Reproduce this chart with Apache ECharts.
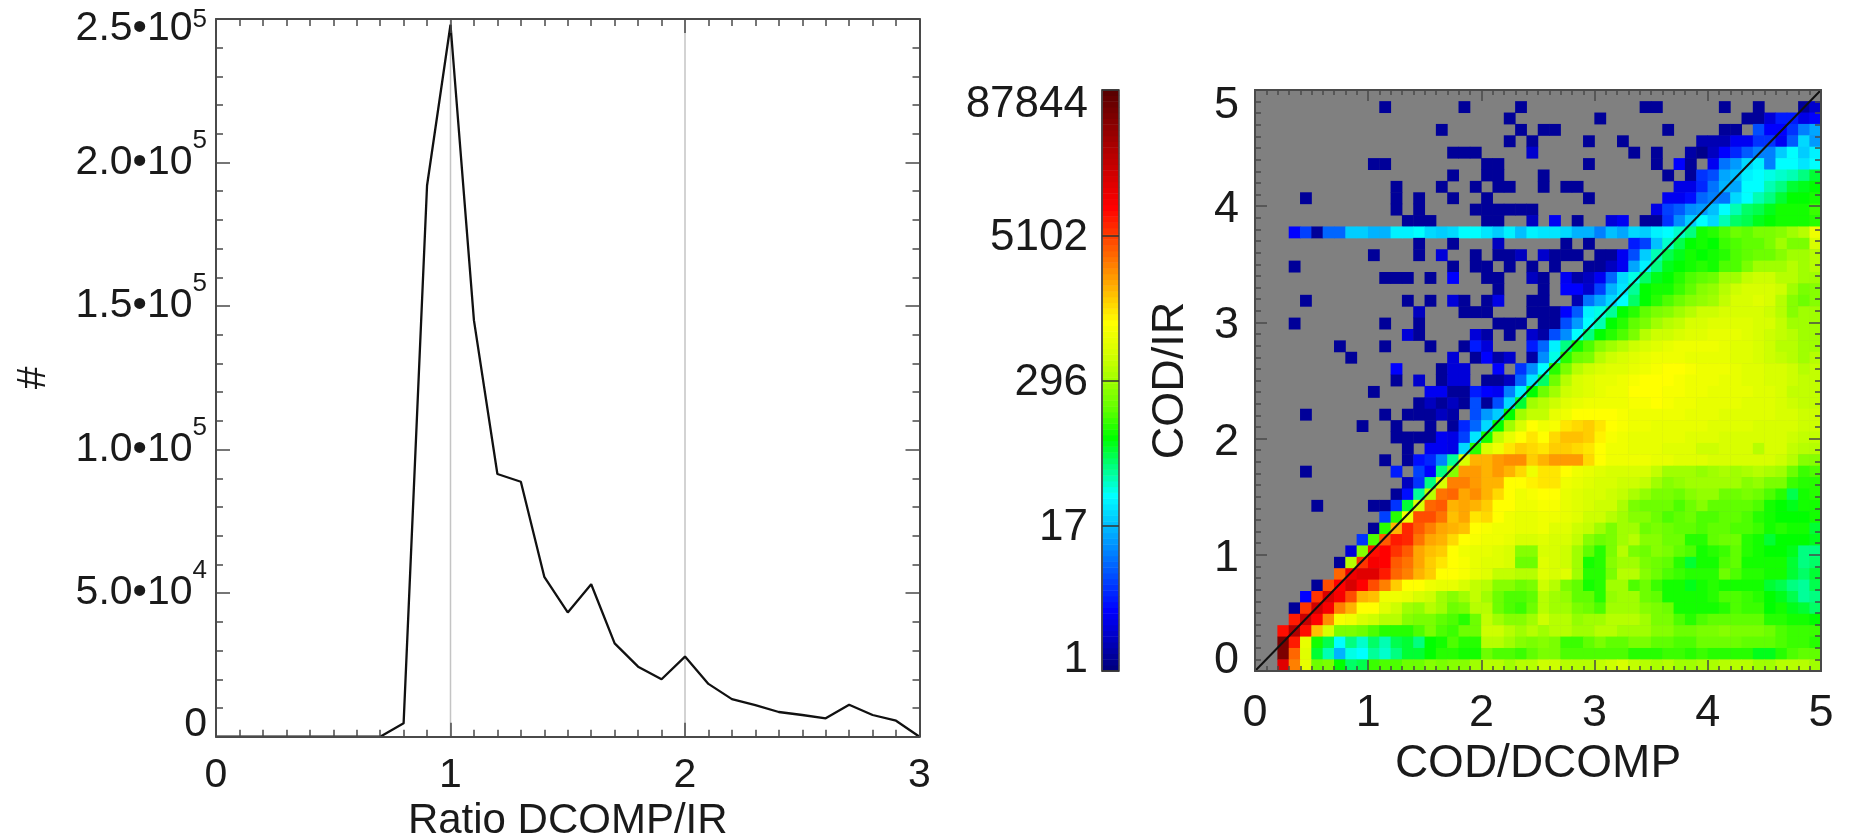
<!DOCTYPE html>
<html><head><meta charset="utf-8">
<style>html,body{margin:0;padding:0;background:#fff}#c{width:1853px;height:840px;filter:blur(0.5px)}</style>
<script src="https://cdn.jsdelivr.net/npm/echarts@6/dist/echarts.min.js"></script>
</head><body><div id="c"></div>
<script>
// Left panel: histogram of the ratio
const ratioBins = [0,0.1,0.2,0.3,0.4,0.5,0.6,0.7,0.8,0.9,1.0,1.1,1.2,1.3,1.4,1.5,1.6,1.7,1.8,1.9,2.0,2.1,2.2,2.3,2.4,2.5,2.6,2.7,2.8,2.9,3.0];
const ratioCounts = [0,0,0,0,0,0,0,0,4650,192000,248000,145000,91500,88800,55700,43300,53100,32500,24400,20000,27900,18400,13100,11000,8600,7560,6400,11150,7560,5570,0];
const ratioRefLines = [1,2];
const ratioYTicks = {250000:['2.5•10','5'],200000:['2.0•10','5'],150000:['1.5•10','5'],100000:['1.0•10','5'],50000:['5.0•10','4'],0:['0','']};
// Colour bar
const barLevelTicks = {0:'1',25:'17',50:'296',75:'5102',100:'87844'};
const rampColors = ['#00007f','#0000c0','#0000ff','#0040ff','#0080ff','#00c0ff','#00ffff','#00ff80','#00ff00','#60ff00','#a0ff00','#d8ff00','#ffff00','#ffc000','#ff8000','#ff4000','#ff0000','#d80000','#b00000','#850000','#5a0000'];
// Right panel: cell level on the colour bar (0 = no count), rows listed from top to bottom
const r00=[0,0,0,0,0,0,0,0,0,0, 0,0,0,0,0,0,0,0,0,0, 0,0,0,0,0,0,0,0,0,0, 0,0,0,0,0,0,0,0,0,0, 0,0,0,0,0,0,0,0,0,0];
const r01=[0,0,0,0,0,0,0,0,0,0, 0,2,0,0,0,0,0,0,2,0, 0,0,0,2,0,0,0,0,0,0, 0,0,0,0,2,2,0,0,0,0, 0,2,0,0,2,0,0,0,2,6];
const r02=[0,0,0,0,0,0,0,0,0,0, 0,0,0,0,0,0,0,0,0,0, 0,0,2,0,0,0,0,0,0,0, 2,0,0,0,0,0,0,0,0,0, 0,0,0,2,2,7,12,12,8,10];
const r03=[0,0,0,0,0,0,0,0,0,0, 0,0,0,0,0,0,2,0,0,0, 0,0,0,2,0,2,2,0,0,0, 0,0,0,0,0,0,2,0,0,0, 0,2,2,0,16,10,10,14,20,23];
const r04=[0,0,0,0,0,0,0,0,0,0, 0,0,0,0,0,0,0,0,0,0, 0,0,2,0,2,0,0,0,0,2, 0,0,2,0,0,0,0,0,0,4, 4,4,9,9,14,14,9,17,27,22];
const r05=[0,0,0,0,0,0,0,0,0,0, 0,0,0,0,0,0,0,2,2,2, 0,0,0,0,6,0,0,0,0,0, 0,0,0,2,0,2,0,0,3,1, 5,10,13,17,20,20,26,30,26,29];
const r06=[0,0,0,0,0,0,0,0,0,0, 2,2,0,0,0,0,0,0,0,0, 2,2,0,0,0,0,0,0,0,2, 0,0,0,0,0,2,0,10,2,0, 9,19,22,27,29,20,30,30,28,30];
const r07=[0,0,0,0,0,0,0,0,0,0, 0,0,0,0,0,0,0,2,0,0, 2,2,0,0,0,2,0,0,0,0, 0,0,0,0,0,0,2,0,2,14, 16,23,25,29,30,31,32,33,35,38];
const r08=[0,0,0,0,0,0,0,0,0,0, 0,0,2,0,0,0,2,0,0,2, 0,2,2,0,0,2,0,2,2,0, 0,0,0,0,0,0,0,8,8,13, 19,24,23,30,30,33,35,38,39,40];
const r09=[0,0,0,0,2,0,0,0,0,0, 0,0,2,0,2,0,0,2,0,0, 2,0,0,0,0,0,0,0,0,2, 0,0,0,0,0,0,9,9,11,18, 20,19,27,30,33,35,38,40,40,41];
const r10=[0,0,0,0,0,0,0,0,0,0, 0,0,2,0,2,0,0,0,0,2, 2,2,2,2,2,0,0,0,0,0, 0,0,0,0,0,8,15,17,21,22, 25,30,33,36,37,39,41,41,41,43];
const r11=[0,0,0,0,0,0,0,0,0,0, 0,0,0,2,2,2,0,0,0,0, 2,2,0,0,5,0,9,0,2,0, 0,7,9,0,2,2,14,21,26,30, 27,33,36,37,39,40,41,41,41,42];
const r12=[0,0,0,10,15,2,18,18,26,26, 24,24,29,29,30,27,26,27,30,30, 28,26,29,25,29,28,28,27,24,24, 20,25,23,27,26,29,30,32,35,41, 42,44,46,45,47,47,48,50,52,58];
const r13=[0,0,0,0,0,0,0,0,0,0, 0,0,0,0,2,0,0,2,0,0, 0,5,0,0,0,0,0,2,0,2, 0,0,0,12,15,25,32,37,40,41, 40,43,44,45,45,47,50,47,47,55];
const r14=[0,0,0,0,0,0,0,0,0,0, 2,0,0,0,2,0,7,0,0,2, 0,2,2,5,0,6,2,2,2,0, 2,2,9,16,26,33,37,39,41,40, 41,42,44,45,46,46,48,50,50,52];
const r15=[0,0,0,2,0,0,0,0,0,0, 0,0,0,0,0,0,0,2,0,2, 2,0,2,0,2,0,2,0,0,2, 2,5,9,23,29,35,39,40,41,42, 41,44,44,47,50,50,50,52,50,52];
const r16=[0,0,0,0,0,0,0,0,0,0, 0,2,2,2,0,2,0,10,0,0, 2,2,0,0,5,2,0,9,3,5, 9,18,27,31,36,39,40,42,44,45, 46,50,50,53,54,54,52,52,50,50];
const r17=[0,0,0,0,0,0,0,0,0,0, 0,0,0,0,0,0,0,0,0,0, 0,2,0,0,0,2,0,10,10,6, 15,24,28,34,40,41,41,43,45,48, 49,52,54,55,55,55,54,50,47,48];
const r18=[0,0,0,0,2,0,0,0,0,0, 0,0,0,2,0,2,0,7,2,0, 2,8,0,0,2,2,0,0,4,19, 23,27,30,36,40,42,44,46,48,49, 50,53,55,55,56,55,52,48,46,48];
const r19=[0,0,0,0,0,0,0,0,0,0, 0,0,0,0,5,0,0,0,2,2, 2,0,0,0,2,2,2,10,17,29, 31,34,40,42,45,47,48,50,52,54, 54,55,55,55,55,54,52,48,50,50];
const r20=[0,0,0,2,0,0,0,0,0,0, 0,2,0,0,2,0,0,0,0,0, 0,2,2,2,0,2,2,16,22,30, 33,40,42,45,47,50,52,53,55,55, 56,56,56,56,55,55,53,50,50,50];
const r21=[0,0,0,0,0,0,0,0,0,0, 0,0,0,7,2,0,0,0,0,7, 3,0,2,0,6,3,16,21,30,35, 40,42,44,47,52,54,54,55,56,56, 57,57,57,56,55,54,53,52,50,50];
const r22=[0,0,0,0,0,0,0,2,0,0, 0,2,0,0,0,2,0,0,2,12, 7,0,0,0,12,18,29,35,41,44, 48,50,52,54,55,56,57,58,58,58, 58,57,56,56,55,54,52,52,50,50];
const r23=[0,0,0,0,0,0,0,0,2,0, 0,0,0,0,0,0,0,7,0,2, 10,3,6,0,3,21,31,42,46,47, 52,54,55,56,57,58,58,58,57,57, 57,57,56,56,55,54,53,52,50,52];
const r24=[0,0,0,0,0,0,0,0,0,0, 0,0,10,0,0,0,2,7,7,0, 0,10,0,14,21,30,42,47,52,54, 55,56,56,57,58,59,60,60,59,58, 58,58,57,56,56,55,55,54,52,53];
const r25=[0,0,0,0,0,0,0,0,0,0, 0,0,2,0,6,0,2,7,7,0, 2,2,5,18,28,36,46,52,55,56, 57,57,58,59,60,60,60,59,58,58, 58,57,57,56,56,55,55,54,53,53];
const r26=[0,0,0,0,0,0,0,0,0,0, 2,0,0,0,0,9,9,2,2,12, 10,9,20,29,40,46,50,54,55,56, 57,58,58,60,60,60,59,59,58,58, 57,57,57,57,56,56,55,53,53,53];
const r27=[0,0,0,0,0,0,0,0,0,0, 0,0,0,0,2,5,2,5,2,16, 2,16,27,38,50,52,54,56,57,58, 58,58,58,59,59,60,59,58,58,57, 57,57,57,56,56,56,55,54,53,53];
const r28=[0,0,0,0,2,0,0,0,0,0, 0,2,0,2,2,2,5,3,0,16, 22,26,40,50,53,53,57,58,60,60, 60,60,59,58,58,58,58,58,57,57, 57,56,56,56,56,56,55,55,54,54];
const r29=[0,0,0,0,0,0,0,0,0,2, 0,0,2,0,0,2,0,2,13,18, 27,40,50,55,60,58,59,62,63,64, 62,60,59,58,58,57,57,57,57,57, 56,56,56,56,55,55,55,55,54,54];
const r30=[0,0,0,0,0,0,0,0,0,0, 0,0,2,2,2,2,9,8,15,28, 41,53,57,60,62,60,63,65,65,64, 61,59,58,57,57,57,57,57,56,56, 56,55,55,55,55,55,55,54,53,53];
const r31=[0,0,0,0,0,0,0,0,0,0, 0,0,0,2,0,9,9,8,27,42, 55,58,62,64,63,62,64,64,63,62, 60,58,58,57,57,57,56,56,56,54, 54,55,55,55,52,55,55,53,52,52];
const r32=[0,0,0,0,0,0,0,0,0,0, 0,2,0,2,11,13,20,34,55,66, 66,68,69,69,64,66,68,68,68,63, 60,58,58,58,58,57,57,56,56,56, 55,55,55,55,55,55,54,52,48,48];
const r33=[0,0,0,0,2,0,0,0,0,0, 0,0,12,0,15,10,35,48,68,68, 66,68,66,63,58,62,62,60,58,57, 56,55,55,55,55,53,50,50,50,49, 50,51,50,51,52,51,50,46,43,44];
const r34=[0,0,0,0,0,0,0,0,0,0, 0,0,0,5,14,35,55,70,70,68, 66,66,60,60,61,62,62,58,57,56, 55,55,54,54,53,50,48,49,50,50, 50,50,50,48,49,47,47,43,42,42];
const r35=[0,0,0,0,0,0,0,0,0,0, 0,0,2,11,34,52,71,72,67,69, 66,63,60,58,59,60,60,57,56,55, 55,54,53,51,49,47,47,46,48,49, 49,46,46,47,46,44,42,37,41,42];
const r36=[0,0,0,0,0,2,0,0,0,0, 2,2,14,38,55,72,73,66,67,66, 64,60,60,58,58,59,59,57,56,55, 54,54,51,47,46,46,46,44,46,48, 45,45,45,45,44,41,40,39,41,41];
const r37=[0,0,0,0,0,0,0,0,0,0, 0,15,42,58,74,74,71,65,67,62, 63,60,58,57,57,58,58,57,56,54, 54,52,50,48,48,46,44,45,46,44, 44,45,45,44,42,41,40,40,40,41];
const r38=[0,0,0,0,0,0,0,0,0,0, 2,42,66,77,73,70,67,66,65,60, 59,58,58,57,57,58,56,56,54,53, 50,47,50,50,46,47,46,45,45,44, 45,45,44,44,43,41,42,41,41,38];
const r39=[0,0,0,0,0,0,0,0,0,14, 44,73,78,77,71,67,66,63,60,59, 58,58,57,55,55,56,55,55,53,48, 46,47,50,52,48,48,46,46,42,42, 45,46,46,42,41,38,40,40,40,39];
const r40=[0,0,0,0,0,0,0,0,7,48, 79,80,76,73,67,65,64,60,58,57, 57,56,55,48,48,55,55,54,50,45, 42,47,52,47,46,48,47,45,44,41, 42,43,45,42,41,40,40,39,35,35];
const r41=[0,0,0,0,0,0,0,2,52,76, 81,80,73,71,67,64,62,60,59,57, 56,56,55,46,46,56,55,54,50,41, 42,48,50,50,47,46,45,42,38,41, 41,44,45,41,41,41,41,38,35,36];
const r42=[0,0,0,0,0,0,0,72,82,84, 84,78,72,70,66,64,60,60,59,57, 56,53,53,52,52,56,55,56,50,42, 42,47,52,52,48,46,44,43,42,42, 42,46,44,42,42,41,41,38,36,38];
const r43=[0,0,0,0,0,2,74,80,85,80, 74,70,64,60,60,58,57,57,55,53, 52,48,48,46,47,54,52,47,45,41, 42,50,50,44,46,43,41,41,39,41, 42,41,41,41,41,38,37,35,34,37];
const r44=[0,0,0,0,10,76,85,81,74,66, 65,58,58,57,55,54,50,48,50,53, 50,46,44,44,45,52,50,49,45,45, 42,49,50,50,46,45,41,41,41,41, 42,44,44,43,42,40,39,37,34,35];
const r45=[0,0,0,2,76,86,81,70,66,60, 60,56,54,50,49,52,50,46,47,52, 52,46,44,43,46,52,50,50,47,46, 44,50,50,50,48,47,46,41,41,41, 41,42,44,43,43,40,41,39,38,36];
const r46=[0,0,0,78,87,80,69,59,58,55, 54,52,52,48,47,47,45,44,42,46, 53,50,48,48,50,54,52,52,49,50, 50,52,52,52,50,47,47,44,42,44, 45,45,45,45,45,42,42,41,41,40];
const r47=[0,0,79,90,79,65,55,47,47,46, 44,42,42,42,44,47,44,43,46,46, 54,54,52,50,52,50,52,52,50,50, 52,52,50,50,50,48,48,46,46,47, 47,48,47,47,47,46,44,43,43,43];
const r48=[0,0,96,78,57,41,37,30,35,32, 36,33,37,38,35,40,41,44,42,42, 52,52,50,48,47,48,47,43,43,45, 47,45,45,47,47,45,45,44,44,46, 46,46,46,45,45,45,44,43,43,42];
const r49=[0,0,96,72,56,38,33,24,31,30, 34,32,35,38,38,40,42,42,41,41, 46,44,44,43,45,47,47,44,44,44, 44,44,44,42,42,42,43,43,42,43, 42,42,42,42,39,39,42,44,45,45];
const r50=[0,0,84,70,57,46,47,40,36,37, 43,44,44,46,46,48,47,48,48,50, 52,52,50,52,52,54,54,52,52,52, 53,54,55,53,52,51,52,50,50,51, 51,52,52,52,50,50,52,52,52,50];
const rowsTopDown=[r00,r01,r02,r03,r04,r05,r06,r07,r08,r09,r10,r11,r12,r13,r14,r15,r16,r17,r18,r19,r20,r21,r22,r23,r24,r25,r26,r27,r28,r29,r30,r31,r32,r33,r34,r35,r36,r37,r38,r39,r40,r41,r42,r43,r44,r45,r46,r47,r48,r49,r50];
const diagonal=[[0,0],[5,5]];
const codYTicks={5:'5',4:'4',3:'3',2:'2',1:'1',0:'0'};

const FONT='"Liberation Sans", Helvetica, Arial, sans-serif', TXT='#1a1a1a', AX='#4a4a4a';
const nCols=r00.length, nRows=rowsTopDown.length;
const cells=[];
rowsTopDown.forEach((row,r)=>row.forEach((lv,c)=>{ if(lv>0) cells.push([c,nRows-1-r,lv]); }));
const barLevels=Array.from({length:101},(_,i)=>i);

function rich(fs,sup,minPad,maxPad){
  return {
    sup:{fontSize:sup,fontFamily:FONT,color:TXT,verticalAlign:'top',padding:[0,0,44,0]},
    mx:{fontSize:fs,fontFamily:FONT,color:TXT,verticalAlign:'bottom',padding:[maxPad,0,0,0]},
    mxs:{fontSize:sup,fontFamily:FONT,color:TXT,verticalAlign:'top',padding:[18,0,0,0]},
    mn:{fontSize:fs,fontFamily:FONT,color:TXT,verticalAlign:'top',padding:[0,0,minPad,0]}
  };
}
function mkAxis(o){
  const len=o.majorLen||14, mlen=o.minorLen||7;
  return Object.assign({
    type:'value',gridIndex:o.g,position:o.position,min:o.min,max:o.max,interval:o.interval,z:6,
    splitLine:{show:false},minorSplitLine:{show:false},
    axisLine:{show:true,onZero:false,lineStyle:{color:AX,width:2}},
    axisTick:{show:true,inside:true,length:len,lineStyle:{color:AX,width:1.5}},
    minorTick:{show:true,splitNumber:o.split,length:mlen,lineStyle:{color:AX,width:1.5}},
    axisLabel:{show:false}
  },o.extra||{});
}
const hiddenCat=(g,data)=>({type:'category',gridIndex:g,data,show:false,boundaryGap:true});
const colsCat=Array.from({length:nCols},(_,i)=>i), rowsCat=Array.from({length:nRows},(_,i)=>i);

const option={
  animation:false,
  backgroundColor:'#fff',
  textStyle:{fontFamily:FONT},
  grid:[
    {left:216,top:19,width:703.5,height:717.7,show:false,outerBoundsMode:'none'},
    {left:1255,top:90,width:566,height:581,show:true,backgroundColor:'#808080',borderColor:AX,borderWidth:1.5,outerBoundsMode:'none'},
    {left:1102,top:90,width:17,height:581,show:true,backgroundColor:'transparent',borderColor:AX,borderWidth:1.5,z:6,outerBoundsMode:'none'}
  ],
  xAxis:[
    mkAxis({g:0,position:'bottom',min:0,max:3,interval:1,split:10,extra:{
      name:'Ratio DCOMP/IR',nameLocation:'middle',nameGap:60,nameTextStyle:{fontSize:42,color:TXT,fontFamily:FONT},
      axisLabel:{show:true,fontSize:41,color:TXT,margin:18,fontFamily:FONT}}}),
    mkAxis({g:0,position:'top',min:0,max:3,interval:1,split:10}),
    hiddenCat(1,colsCat),
    mkAxis({g:1,position:'bottom',min:0,max:5,interval:1,split:10,majorLen:11,minorLen:5,extra:{
      name:'COD/DCOMP',nameLocation:'middle',nameGap:57,nameTextStyle:{fontSize:46,color:TXT,fontFamily:FONT},
      axisLabel:{show:true,fontSize:45,color:TXT,margin:20,fontFamily:FONT}}}),
    mkAxis({g:1,position:'top',min:0,max:5,interval:1,split:10,majorLen:11,minorLen:5}),
    hiddenCat(2,['bar'])
  ],
  yAxis:[
    mkAxis({g:0,position:'left',min:0,max:250000,interval:50000,split:5,extra:{
      name:'#',nameLocation:'middle',nameGap:162,nameRotate:90,nameTextStyle:{fontSize:41,color:TXT,fontFamily:FONT},
      axisLabel:{show:true,fontSize:41,color:TXT,margin:9,fontFamily:FONT,rich:rich(41,26,24,20),
        formatter:v=>{const t=ratioYTicks[v]; if(!t)return ''; if(v===0)return '{mn|0}'; if(v===250000)return `{mx|${t[0]}}{mxs|${t[1]}}`; return `${t[0]}{sup|${t[1]}}`;}}}}),
    mkAxis({g:0,position:'right',min:0,max:250000,interval:50000,split:5}),
    hiddenCat(1,rowsCat),
    mkAxis({g:1,position:'left',min:0,max:5,interval:1,split:10,majorLen:12,minorLen:6,extra:{
      axisLabel:{show:true,fontSize:45,color:TXT,margin:16,padding:[7,0,0,0],fontFamily:FONT,rich:rich(45,25,28,24),
        formatter:v=>{const t=codYTicks[v]; if(v===0)return '{mn|0}'; if(v===5)return '{mx|5}'; return t;}}}}),
    mkAxis({g:1,position:'right',min:0,max:5,interval:1,split:10,majorLen:12,minorLen:6}),
    hiddenCat(2,barLevels),
    {type:'value',gridIndex:2,position:'left',min:0,max:100,interval:25,z:7,
      splitLine:{show:false},axisLine:{show:true,onZero:false,lineStyle:{color:AX,width:1.5}},
      axisTick:{show:true,inside:true,length:17,lineStyle:{color:'#333',width:1.5}},minorTick:{show:false},
      name:'COD/IR',nameLocation:'middle',nameGap:-91,nameRotate:90,nameTextStyle:{fontSize:45,color:TXT,fontFamily:FONT},
      axisLabel:{show:true,fontSize:44,color:TXT,margin:14,padding:[5,0,0,0],fontFamily:FONT,rich:rich(44,25,28,24),
        formatter:v=>{const t=barLevelTicks[v]; if(v===0)return `{mn|${t}}`; if(v===100)return `{mx|${t}}`; return t;}}}
  ],
  visualMap:[{show:false,type:'continuous',min:0,max:100,dimension:2,seriesIndex:[3,5],inRange:{color:rampColors}}],
  series:[
    {type:'line',name:'ratio reference 1',xAxisIndex:0,yAxisIndex:0,showSymbol:false,silent:true,z:2,lineStyle:{color:'#c4c4c4',width:1.5},
      data:[[ratioRefLines[0],0],[ratioRefLines[0],250000]]},
    {type:'line',name:'ratio reference 2',xAxisIndex:0,yAxisIndex:0,showSymbol:false,silent:true,z:2,lineStyle:{color:'#c4c4c4',width:1.5},
      data:[[ratioRefLines[1],0],[ratioRefLines[1],250000]]},
    {type:'line',name:'Ratio DCOMP/IR',xAxisIndex:0,yAxisIndex:0,showSymbol:false,z:3,lineStyle:{color:'#111',width:2.3},
      data:ratioBins.map((x,i)=>[x,ratioCounts[i]])},
    {type:'heatmap',name:'COD',xAxisIndex:2,yAxisIndex:2,data:cells,progressive:0,z:2,silent:true,emphasis:{disabled:true}},
    {type:'line',name:'1:1',xAxisIndex:3,yAxisIndex:3,showSymbol:false,silent:true,z:4,lineStyle:{color:'#111',width:2},data:diagonal},
    {type:'heatmap',name:'colour bar',xAxisIndex:5,yAxisIndex:5,data:barLevels.map((l,i)=>[0,i,l]),progressive:0,z:2,silent:true,emphasis:{disabled:true}}
  ]
};
echarts.init(document.getElementById('c'),null,{renderer:'canvas'}).setOption(option);
</script></body></html>
